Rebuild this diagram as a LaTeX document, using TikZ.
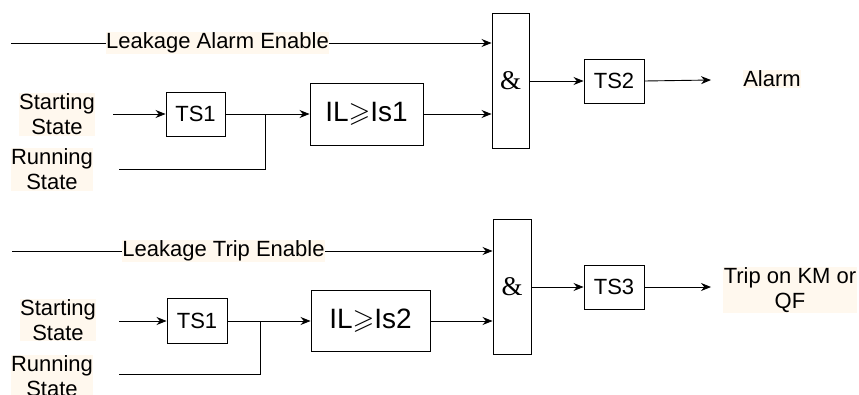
\documentclass[tikz,border=0pt]{standalone}
\usepackage{fontspec}
\setmainfont{Liberation Sans}
\newfontfamily\ampfont{Liberation Serif}
\usepackage{amssymb}
\usetikzlibrary{arrows.meta}
\definecolor{cream}{HTML}{FFF8EE}
\tikzset{
  txt/.style={font=\fontsize{22}{25}\selectfont},
  big/.style={font=\fontsize{28}{32}\selectfont},
  blk/.style={draw, line width=0.9pt, inner sep=0pt, txt},
  lbl/.style={fill=cream, inner sep=0.5pt, align=center, txt},
  amp/.style={font=\fontsize{27}{30}\ampfont},
  conn/.style={line width=0.9pt},
  arr/.style={conn, -{Stealth[length=10pt,width=8pt]}},
}
\begin{document}
\begin{tikzpicture}[x=1pt,y=-1pt]
\useasboundingbox (0,0) rectangle (859,394);
% ---------- upper group ----------
\coordinate (e1s) at (11,43);
\coordinate (s1in) at (113,114);
\coordinate (r1in) at (119,169);
\coordinate (a1end) at (711,80);
\node[blk, minimum width=59, minimum height=44] (ts1a) at (195.5,114) {TS1};
\node[blk, minimum width=113, minimum height=62, big] (ila) at (366.5,114) {IL$\geqslant$Is1};
\node[blk, minimum width=37, minimum height=135, amp] (and1) at (510.5,80.5) {\&};
\node[blk, minimum width=60, minimum height=44] (ts2) at (614,81) {TS2};
\node[lbl] (alarm) at (772,79) {Alarm};
\node[lbl] (st1) at (57,114.5) {Starting\\State};
\node[lbl] (rn1) at (52,169.5) {Running\\State};
\node[lbl] (en1) at (217.5,43) {Leakage Alarm Enable};
\coordinate (j1) at (265,114);
\draw[arr] (e1s) -- (en1) -- (en1.east -| and1.west);
\draw[arr] (s1in) -- (ts1a.west);
\draw[arr] (ts1a.east) -- (ila.west);
\draw[conn] (r1in) -| (j1);
\draw[arr] (ila.east) -- (ila.east -| and1.west);
\draw[arr] (and1.east |- ts2.west) -- (ts2.west);
\draw[arr] (ts2.east) -- (a1end);
% ---------- lower group ----------
\coordinate (e2s) at (12,251);
\coordinate (s2in) at (119,321);
\coordinate (r2in) at (119,374);
\coordinate (a2end) at (711,287);
\node[blk, minimum width=60, minimum height=45] (ts1b) at (197,321) {TS1};
\node[blk, minimum width=119, minimum height=61, big] (ilb) at (370.5,321) {IL$\geqslant$Is2};
\node[blk, minimum width=38, minimum height=135, amp] (and2) at (512,286.5) {\&};
\node[blk, minimum width=60, minimum height=44] (ts3) at (614,287) {TS3};
\node[lbl] (trip) at (790,290) {Trip on KM or\\QF};
\node[lbl] (st2) at (58,320) {Starting\\State};
\node[lbl] (rn2) at (52,376) {Running\\State};
\node[lbl] (en2) at (223.5,251) {Leakage Trip Enable};
\coordinate (j2) at (260,321);
\draw[arr] (e2s) -- (en2) -- (en2.east -| and2.west);
\draw[arr] (s2in) -- (ts1b.west);
\draw[arr] (ts1b.east) -- (ilb.west);
\draw[conn] (r2in) -| (j2);
\draw[arr] (ilb.east) -- (ilb.east -| and2.west);
\draw[arr] (and2.east |- ts3.west) -- (ts3.west);
\draw[arr] (ts3.east) -- (a2end);
\end{tikzpicture}
\end{document}
